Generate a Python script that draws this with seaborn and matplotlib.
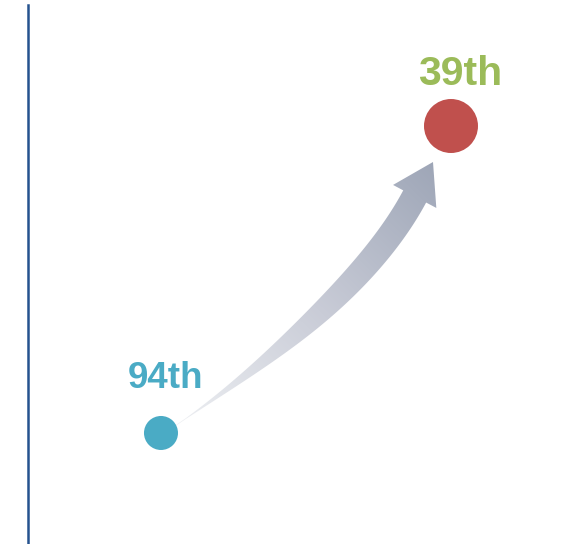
import numpy as np
import pandas as pd
import matplotlib
matplotlib.use("Agg")
import matplotlib.pyplot as plt
import seaborn as sns
from matplotlib.path import Path
from matplotlib.patches import PathPatch
from matplotlib.colors import LinearSegmentedColormap

# ---- data ----
periods = ["Before", "After"]
ranks = [94, 39]
rank_labels = ["94th", "39th"]

# ---- style ----
point_colors = ["#4aabc5", "#c0504d"]
label_colors = ["#4aabc5", "#9bbb59"]
point_sizes = {"Before": 600, "After": 1512}

sns.set_theme(style="white")
plt.rcParams["font.family"] = ["Liberation Sans", "DejaVu Sans"]

W, H = 577, 544
fig = plt.figure(figsize=(W / 100, H / 100), dpi=100)
fig.patch.set_facecolor("white")
ax = fig.add_axes([27.5 / W, 0, 1 - 27.5 / W, 539 / H])
ax.set_facecolor("white")

df = pd.DataFrame({"period": periods, "rank": ranks, "label": rank_labels})
sns.scatterplot(data=df, x="period", y="rank", hue="period", palette=point_colors,
                size="period", sizes=point_sizes, legend=False, linewidth=0,
                ax=ax, zorder=3)

XLIM = (-0.4603, 1.4345)
YLIM = (113.89, 17.32)
ax.set_xlim(*XLIM)
ax.set_ylim(*YLIM)

for s in ["top", "right", "bottom"]:
    ax.spines[s].set_visible(False)
ax.spines["left"].set_color("#25528f")
ax.spines["left"].set_linewidth(1.8)
ax.set_xticks([])
ax.set_yticks([])
ax.set_xlabel("")
ax.set_ylabel("")

# labels
offsets = [(2.9, 32.4), (6.5, 29.5)]
fsizes = [26.5, 29.5]
for i, (lab, r) in enumerate(zip(rank_labels, ranks)):
    ax.annotate(lab, (i, r), xytext=offsets[i], textcoords="offset points",
                ha="center", va="baseline", fontsize=fsizes[i],
                fontweight="bold", color=label_colors[i], zorder=4)

# ---- curved gradient arrow (display coordinates) ----
pb = ax.transData.transform((0, ranks[0]))
pr = ax.transData.transform((1, ranks[1]))
P0 = pb + np.array([11.0, 5.0])
T = pr + np.array([-18.0, -36.0])
ah = np.radians(62.0)
uh = np.array([np.cos(ah), np.sin(ah)])
L = 39.0
P2 = T - L * uh
a0 = np.radians(34.0)
u0 = np.array([np.cos(a0), np.sin(a0)])
A = np.column_stack([u0, uh])
ab = np.linalg.solve(A, P2 - P0)
P1 = P0 + ab[0] * u0

t = np.linspace(0, 1, 300)[:, None]
B = (1 - t) ** 2 * P0 + 2 * t * (1 - t) * P1 + t ** 2 * P2
D = 2 * (1 - t) * (P1 - P0) + 2 * t * (P2 - P1)
D = D / np.linalg.norm(D, axis=1)[:, None]
N = np.column_stack([-D[:, 1], D[:, 0]])
tt = t[:, 0]
w = 26.0 * np.tanh((tt / 0.45) ** 1.5)
w = np.maximum(w, 0.6)
left = B + (w / 2)[:, None] * N
right = B - (w / 2)[:, None] * N
nend = N[-1]
hw = 24.5
poly = np.vstack([left, P2 + hw * nend, T, P2 - hw * nend, right[::-1]])
poly_data = ax.transData.inverted().transform(poly)
patch = PathPatch(Path(np.vstack([poly_data, poly_data[:1]]), closed=True),
                  facecolor="none", edgecolor="none")
ax.add_patch(patch)

x0, y0 = poly.min(axis=0) - 2
x1, y1 = poly.max(axis=0) + 2
gx = np.linspace(x0, x1, int(x1 - x0) + 1)
gy = np.linspace(y0, y1, int(y1 - y0) + 1)
GX, GY = np.meshgrid(gx, gy)
v = T - P0
S = ((GX - P0[0]) * v[0] + (GY - P0[1]) * v[1]) / (v @ v)
S = np.clip(S, 0, 1)
cmap = LinearSegmentedColormap.from_list(
    "arr", [(0, "#eef0f3"), (0.5, "#c9ccd7"), (1, "#9ea6b7")])
img = cmap(S)
d0 = ax.transData.inverted().transform((x0, y0))
d1 = ax.transData.inverted().transform((x1, y1))
im = ax.imshow(img, extent=(d0[0], d1[0], d0[1], d1[1]), origin="lower",
               aspect="auto", interpolation="bilinear", zorder=2)
im.set_clip_path(patch)

ax.set_xlim(*XLIM)
ax.set_ylim(*YLIM)

fig.savefig("out.png", dpi=100, facecolor="white")
